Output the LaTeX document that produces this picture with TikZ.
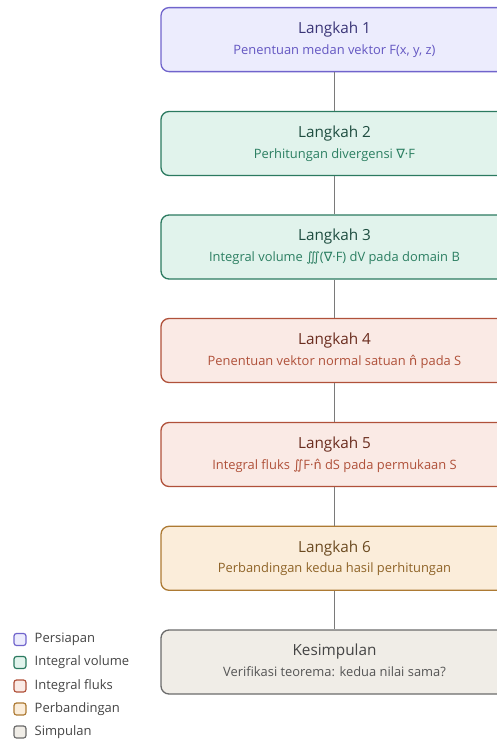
\documentclass[tikz,border=0pt]{standalone}
\usepackage{fontspec}
\setmainfont{Open Sans}
\newfontfamily\symf{DejaVu Sans}
\usetikzlibrary{calc}
\definecolor{pFill}{HTML}{ECECFD}\definecolor{pDraw}{HTML}{7064CC}\definecolor{pTit}{HTML}{3A3577}\definecolor{pSub}{HTML}{6457C2}
\definecolor{gFill}{HTML}{E1F3EC}\definecolor{gDraw}{HTML}{2B7A60}\definecolor{gTit}{HTML}{1E4D40}\definecolor{gSub}{HTML}{2C7F62}
\definecolor{rFill}{HTML}{FAEAE5}\definecolor{rDraw}{HTML}{B0513A}\definecolor{rTit}{HTML}{6A2C1E}\definecolor{rSub}{HTML}{B0513A}
\definecolor{oFill}{HTML}{FBEDDA}\definecolor{oDraw}{HTML}{AD7A33}\definecolor{oTit}{HTML}{6B4A20}\definecolor{oSub}{HTML}{8F6428}
\definecolor{kFill}{HTML}{F0EDE7}\definecolor{kDraw}{HTML}{6B6B6B}\definecolor{kTit}{HTML}{444444}\definecolor{kSub}{HTML}{555555}
\definecolor{lineC}{HTML}{7A7A7A}
\tikzset{
  stepbox/.style={draw, line width=1.3pt, rounded corners=8pt, minimum width=347pt, minimum height=64pt, inner sep=0pt},
  tit/.style={font=\fontsize{15.3}{17}\selectfont, inner sep=0pt, anchor=base},
  sub/.style={font=\fontsize{12.9}{14}\selectfont, inner sep=0pt, anchor=base},
  conn/.style={draw=lineC, line width=1.5pt},
  legbox/.style={draw, line width=1.2pt, rounded corners=2.5pt, minimum width=12pt, minimum height=12pt, inner sep=0pt},
  legtxt/.style={font=\fontsize{13}{14}\selectfont, text=kTit, anchor=west, inner sep=0pt}
}
\begin{document}
\begin{tikzpicture}[x=1pt,y=-1pt]
\useasboundingbox (0,0) rectangle (497,742);
\clip (0,0) rectangle (497,742);
\node[stepbox, fill=pFill, draw=pDraw] (s1) at (334.5,39.6) {};
\node[stepbox, fill=gFill, draw=gDraw] (s2) at (334.5,143.5) {};
\node[stepbox, fill=gFill, draw=gDraw] (s3) at (334.5,247) {};
\node[stepbox, fill=rFill, draw=rDraw] (s4) at (334.5,350.5) {};
\node[stepbox, fill=rFill, draw=rDraw] (s5) at (334.5,454.5) {};
\node[stepbox, fill=oFill, draw=oDraw] (s6) at (334.5,558.3) {};
\node[stepbox, fill=kFill, draw=kDraw] (s7) at (334.5,662) {};
\draw[conn] (s1.south) -- (s2.north);
\draw[conn] (s2.south) -- (s3.north);
\draw[conn] (s3.south) -- (s4.north);
\draw[conn] (s4.south) -- (s5.north);
\draw[conn] (s5.south) -- (s6.north);
\draw[conn] (s6.south) -- (s7.north);
% texts
\node[tit, text=pTit] (t1) at ($(s1.center)+(0,-6.3)$) {Langkah 1};
\node[sub, text=pSub] (u1) at ($(s1.center)+(0,14.5)$) {Penentuan medan vektor F(x, y, z)};
\node[tit, text=gTit] (t2) at ($(s2.center)+(0,-6.3)$) {Langkah 2};
\node[sub, text=gSub] (u2) at ($(s2.center)+(0,14.5)$) {Perhitungan divergensi {\symf ∇}·F};
\node[tit, text=gTit] (t3) at ($(s3.center)+(0,-6.3)$) {Langkah 3};
\node[sub, text=gSub] (u3) at ($(s3.center)+(0,14.5)$) {Integral volume {\symf ∭}({\symf ∇}·F) dV pada domain B};
\node[tit, text=rTit] (t4) at ($(s4.center)+(0,-6.3)$) {Langkah 4};
\node[sub, text=rSub] (u4) at ($(s4.center)+(0,14.5)$) {Penentuan vektor normal satuan {\symf n̂} pada S};
\node[tit, text=rTit] (t5) at ($(s5.center)+(0,-6.3)$) {Langkah 5};
\node[sub, text=rSub] (u5) at ($(s5.center)+(0,14.5)$) {Integral fluks {\symf ∬}F·{\symf n̂} dS pada permukaan S};
\node[tit, text=oTit] (t6) at ($(s6.center)+(0,-6.3)$) {Langkah 6};
\node[sub, text=oSub] (u6) at ($(s6.center)+(0,14.5)$) {Perbandingan kedua hasil perhitungan};
\node[tit, text=kTit] (t7) at ($(s7.center)+(0,-6.3)$) {Kesimpulan};
\node[sub, text=kSub] (u7) at ($(s7.center)+(0,14.5)$) {Verifikasi teorema: kedua nilai sama?};
% legend
\node[legbox, fill=pFill, draw=pDraw] (l1) at (20,639.5) {};
\node[legbox, fill=gFill, draw=gDraw] (l2) at (20,662.5) {};
\node[legbox, fill=rFill, draw=rDraw] (l3) at (20,686) {};
\node[legbox, fill=oFill, draw=oDraw] (l4) at (20,709) {};
\node[legbox, fill=kFill, draw=kDraw] (l5) at (20,732) {};
\node[legtxt] (m1) at (34.5,639.5) {Persiapan};
\node[legtxt] (m2) at (34.5,662.5) {Integral volume};
\node[legtxt] (m3) at (34.5,686) {Integral fluks};
\node[legtxt] (m4) at (34.5,709) {Perbandingan};
\node[legtxt] (m5) at (34.5,732) {Simpulan};
\end{tikzpicture}
\end{document}
